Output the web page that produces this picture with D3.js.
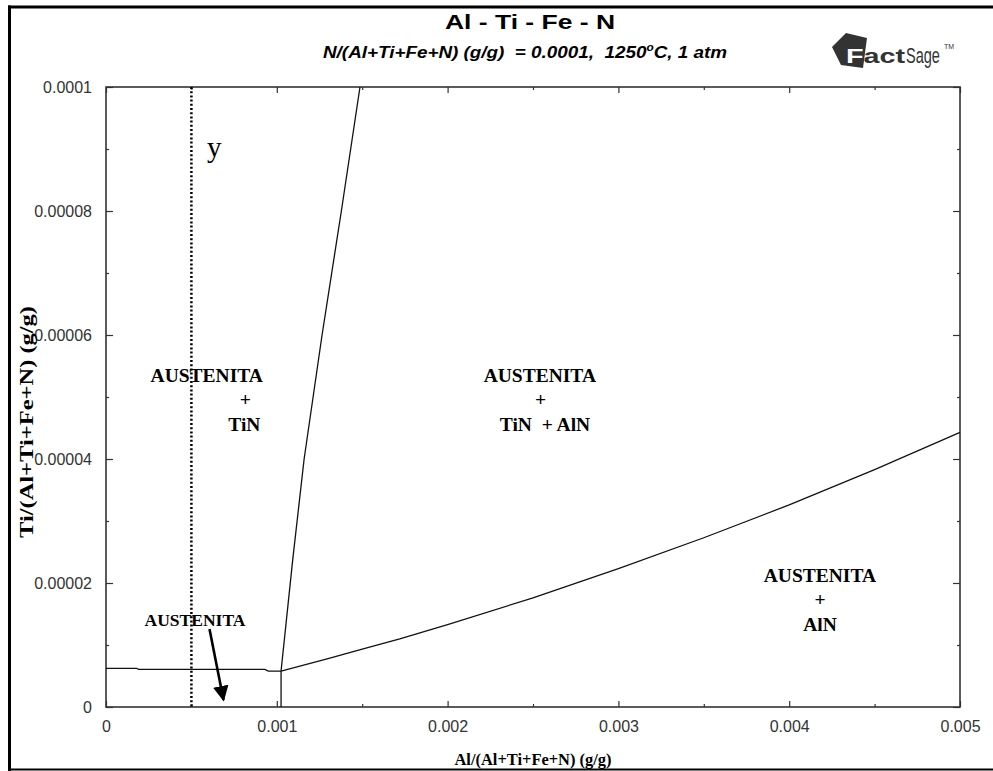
<!DOCTYPE html>
<html>
<head>
<meta charset="utf-8">
<script src="https://cdn.jsdelivr.net/npm/d3@7"></script>
<style>
  html, body { margin: 0; padding: 0; background: #fff; }
  svg { display: block; }
  text { white-space: pre; }
</style>
</head>
<body>
<svg id="chart" width="993" height="771"></svg>
<script>
// ---------------- data ----------------
const xTickValues = [0, 0.001, 0.002, 0.003, 0.004, 0.005];
const xTickLabels = ["0", "0.001", "0.002", "0.003", "0.004", "0.005"];
const xMinorTicks = [0.0005, 0.0015, 0.0025, 0.0035, 0.0045];
const yTickValues = [0, 0.00002, 0.00004, 0.00006, 0.00008, 0.0001];
const yTickLabels = ["0", "0.00002", "0.00004", "0.00006", "0.00008", "0.0001"];
const yMinorTicks = [0.00001, 0.00003, 0.00005, 0.00007, 0.00009];

// phase boundaries [Al, Ti]
const tinBoundary = [[0, 6.24e-6], [0.00018, 6.24e-6], [0.00019, 6.08e-6], [0.00093, 6.08e-6], [0.00095, 5.8e-6], [0.001025, 5.8e-6]];
const verticalBoundary = [[0.001025, 0], [0.001025, 5.8e-6]];
const steepBoundary = [[0.001025, 5.8e-6], [0.001093, 2.37e-5], [0.00116, 4.0e-5], [0.001265, 6.0e-5], [0.001378, 8.0e-5], [0.001487, 1.0e-4]];
const alnBoundary = [[0.001025, 5.8e-6], [0.0013, 7.8e-6], [0.0015, 9.35e-6], [0.00172, 1.10e-5], [0.002, 1.33e-5], [0.0025, 1.76e-5], [0.003, 2.23e-5], [0.0035, 2.73e-5], [0.004, 3.26e-5], [0.0045, 3.83e-5], [0.005, 4.43e-5]];
const markerX = [0.0005];

const regionLabels = [
  { lines: ["AUSTENITA", "+", "TiN"], x: [0.00059, 0.000815, 0.00081], y: 5.25e-5 },
  { lines: ["AUSTENITA", "+", "TiN  + AlN"], x: [0.00254, 0.002545, 0.00257], y: 5.25e-5 },
  { lines: ["AUSTENITA", "+", "AlN"], x: [0.00418, 0.00418, 0.00418], y: 2.02e-5 }
];

// ---------------- drawing ----------------
const svg = d3.select("#chart");
const x = d3.scaleLinear().domain([0, 0.005]).range([106, 960]);
const y = d3.scaleLinear().domain([0, 0.0001]).range([707, 87]);

// outer frame lines
svg.append("line").attr("x1", 8).attr("x2", 993).attr("y1", 7).attr("y2", 7).attr("stroke", "#000").attr("stroke-width", 3);
svg.append("line").attr("x1", 9.5).attr("x2", 9.5).attr("y1", 5.5).attr("y2", 771).attr("stroke", "#000").attr("stroke-width", 3);
svg.append("line").attr("x1", 8).attr("x2", 993).attr("y1", 769.5).attr("y2", 769.5).attr("stroke", "#000").attr("stroke-width", 2);

// title
svg.append("text").attr("x", 530).attr("y", 29).attr("text-anchor", "middle")
  .attr("font-family", "Liberation Sans, Arial, sans-serif").attr("font-weight", "bold").attr("font-size", 20)
  .attr("textLength", 170).attr("lengthAdjust", "spacingAndGlyphs").text("Al - Ti - Fe - N");

const sub = svg.append("text").attr("x", 323).attr("y", 58)
  .attr("font-family", "Liberation Sans, Arial, sans-serif").attr("font-weight", "bold").attr("font-style", "italic").attr("font-size", 16)
  .attr("textLength", 404).attr("lengthAdjust", "spacingAndGlyphs");
sub.append("tspan").text("N/(Al+Ti+Fe+N) (g/g)  = 0.0001,  1250");
sub.append("tspan").attr("font-size", 10).attr("dy", -7).text("o");
sub.append("tspan").attr("dy", 7).text("C, 1 atm");

// FactSage logo
const logo = svg.append("g");
logo.append("path").attr("d", "M832,47 L846,33 L867,38 L863,68 L841,65 Z").attr("fill", "#333");
const ft = logo.append("text").attr("x", 846).attr("y", 63)
  .attr("font-family", "Liberation Sans, Arial, sans-serif").attr("font-weight", "bold").attr("font-size", 21)
  .attr("textLength", 59).attr("lengthAdjust", "spacingAndGlyphs");
ft.append("tspan").attr("fill", "#fff").text("F");
ft.append("tspan").attr("fill", "#333").text("act");
logo.append("g").attr("transform", "translate(906,63) scale(0.66,1)")
  .append("text").attr("x", 0).attr("y", 0)
  .attr("font-family", "Liberation Sans, Arial, sans-serif").attr("font-size", 22).attr("fill", "#333").text("Sage");
logo.append("text").attr("x", 944).attr("y", 49)
  .attr("font-family", "Liberation Sans, Arial, sans-serif").attr("font-size", 7).attr("fill", "#333").text("TM");

// axes (ticks inward on all four sides)
const axColor = "#333";
function styleAxis(g) {
  g.select(".domain").remove();
  g.selectAll("line").attr("stroke", axColor).attr("stroke-width", 1.2);
}
svg.append("g").attr("transform", `translate(0,${y(0)})`)
  .call(d3.axisBottom(x).tickValues(xTickValues).tickSize(-6).tickFormat((d, i) => xTickLabels[i]).tickPadding(14))
  .call(styleAxis)
  .call(g => g.selectAll("text").attr("font-family", "Liberation Sans, Arial, sans-serif").attr("font-size", 16).attr("fill", "#333"));
svg.append("g").attr("transform", `translate(0,${y(0)})`)
  .call(d3.axisBottom(x).tickValues(xMinorTicks).tickSize(-3).tickFormat(""))
  .call(styleAxis);
svg.append("g").attr("transform", `translate(0,${y(0.0001)})`)
  .call(d3.axisTop(x).tickValues(xTickValues).tickSize(-6).tickFormat(""))
  .call(styleAxis);
svg.append("g").attr("transform", `translate(0,${y(0.0001)})`)
  .call(d3.axisTop(x).tickValues(xMinorTicks).tickSize(-3).tickFormat(""))
  .call(styleAxis);
svg.append("g").attr("transform", `translate(${x(0)},0)`)
  .call(d3.axisLeft(y).tickValues(yTickValues).tickSize(-7).tickFormat((d, i) => yTickLabels[i]).tickPadding(14))
  .call(styleAxis)
  .call(g => g.selectAll("text").attr("font-family", "Liberation Sans, Arial, sans-serif").attr("font-size", 16).attr("fill", "#333"));
svg.append("g").attr("transform", `translate(${x(0)},0)`)
  .call(d3.axisLeft(y).tickValues(yMinorTicks).tickSize(-3).tickFormat(""))
  .call(styleAxis);
svg.append("g").attr("transform", `translate(${x(0.005)},0)`)
  .call(d3.axisRight(y).tickValues(yTickValues).tickSize(-7).tickFormat(""))
  .call(styleAxis);
svg.append("g").attr("transform", `translate(${x(0.005)},0)`)
  .call(d3.axisRight(y).tickValues(yMinorTicks).tickSize(-3).tickFormat(""))
  .call(styleAxis);

// plot frame
svg.append("rect").attr("x", x(0)).attr("y", y(0.0001)).attr("width", x(0.005) - x(0)).attr("height", y(0) - y(0.0001))
  .attr("fill", "none").attr("stroke", axColor).attr("stroke-width", 1.6);

// axis titles
svg.append("text").attr("transform", "translate(33,422) rotate(-90)").attr("text-anchor", "middle")
  .attr("font-family", "Liberation Serif, Times New Roman, serif").attr("font-weight", "bold").attr("font-size", 18)
  .attr("textLength", 232).attr("lengthAdjust", "spacingAndGlyphs").text("Ti/(Al+Ti+Fe+N) (g/g)");
svg.append("text").attr("x", 533).attr("y", 765).attr("text-anchor", "middle")
  .attr("font-family", "Liberation Serif, Times New Roman, serif").attr("font-weight", "bold").attr("font-size", 17)
  .attr("textLength", 157).attr("lengthAdjust", "spacingAndGlyphs").text("Al/(Al+Ti+Fe+N) (g/g)");

// marker dotted line
svg.selectAll(".marker").data(markerX).enter().append("line")
  .attr("x1", d => x(d)).attr("x2", d => x(d)).attr("y1", y(0.0001)).attr("y2", y(0))
  .attr("stroke", "#000").attr("stroke-width", 2.5).attr("stroke-dasharray", "2,2.2");
svg.append("text").attr("x", 207).attr("y", 157)
  .attr("font-family", "Liberation Serif, Times New Roman, serif").attr("font-size", 29).text("y");

// boundaries
const line = d3.line().x(d => x(d[0])).y(d => y(d[1]));
[tinBoundary, verticalBoundary, steepBoundary, alnBoundary].forEach(b => {
  svg.append("path").datum(b).attr("d", line).attr("fill", "none").attr("stroke", "#111").attr("stroke-width", 1.3);
});

// region labels
const serif = "Liberation Serif, Times New Roman, serif";
regionLabels.forEach(r => {
  r.lines.forEach((t, i) => {
    svg.append("text").attr("x", x(r.x[i])).attr("y", y(r.y) + i * 24.5)
      .attr("text-anchor", "middle").attr("font-family", serif).attr("font-weight", "bold").attr("font-size", 19.5)
      .text(t);
  });
});
svg.append("text").attr("x", 195).attr("y", 626).attr("text-anchor", "middle")
  .attr("font-family", serif).attr("font-weight", "bold").attr("font-size", 17.5).text("AUSTENITA");

// arrow
svg.append("defs").append("marker").attr("id", "ah").attr("viewBox", "0 0 10 10").attr("refX", 9).attr("refY", 5)
  .attr("markerWidth", 6).attr("markerHeight", 6).attr("markerUnits", "strokeWidth").attr("orient", "auto")
  .append("path").attr("d", "M0,0 L10,5 L0,10 Z").attr("fill", "#000");
svg.append("line").attr("x1", 209.5).attr("y1", 629).attr("x2", 223.5).attr("y2", 700)
  .attr("stroke", "#000").attr("stroke-width", 2.6).attr("marker-end", "url(#ah)");
</script>
</body>
</html>
